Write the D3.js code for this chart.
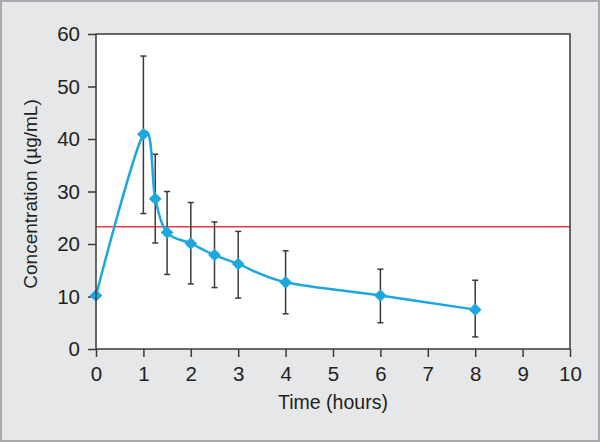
<!DOCTYPE html>
<html>
<head>
<meta charset="utf-8">
<script src="https://cdn.jsdelivr.net/npm/d3@7"></script>
<style>
  body { margin: 0; background: #e6e7e8; }
  svg { display: block; font-family: "Liberation Sans", Arial, sans-serif; }
</style>
</head>
<body>
<svg width="600" height="442"></svg>
<script>
// concentration vs time, mean with error bars
const times = [0, 1, 1.25, 1.5, 2, 2.5, 3, 4, 6, 8];
const means = [10.2, 40.9, 28.6, 22.2, 20.1, 17.9, 16.2, 12.7, 10.2, 7.5];
const upper = [10.2, 55.8, 37.1, 30.0, 27.9, 24.2, 22.4, 18.7, 15.2, 13.1];
const lower = [10.2, 25.8, 20.2, 14.2, 12.4, 11.7, 9.7, 6.7, 5.0, 2.3];
const xTicks = [0, 1, 2, 3, 4, 5, 6, 7, 8, 9, 10];
const yTicks = [0, 10, 20, 30, 40, 50, 60];
const threshold = 23.3;

const svg = d3.select("svg");
const margin = { left: 96, right: 30, top: 34, bottom: 93 };
const W = 600, H = 442;

const x = d3.scaleLinear().domain([0, 10]).range([margin.left, W - margin.right]);
const y = d3.scaleLinear().domain([0, 60]).range([H - margin.bottom, margin.top]);

// outer frame
svg.append("rect")
  .attr("x", 1).attr("y", 1)
  .attr("width", W - 2).attr("height", H - 2)
  .attr("fill", "#e6e7e8")
  .attr("stroke", "#a7a9ac")
  .attr("stroke-width", 2);

// plot area
svg.append("rect")
  .attr("x", x(0)).attr("y", y(60))
  .attr("width", x(10) - x(0)).attr("height", y(0) - y(60))
  .attr("fill", "#fff");

const axisColor = "#3a3a3a";

const xAxis = svg.append("g")
  .attr("transform", `translate(0,${y(0)})`)
  .call(d3.axisBottom(x).tickValues(xTicks).tickSize(8).tickPadding(9));
const yAxis = svg.append("g")
  .attr("transform", `translate(${x(0)},0)`)
  .call(d3.axisLeft(y).tickValues(yTicks).tickSize(8).tickPadding(8));

[xAxis, yAxis].forEach(g => {
  g.select(".domain").remove();
  g.selectAll("line").attr("stroke", axisColor).attr("stroke-width", 1.5);
  g.selectAll("text")
    .attr("fill", "#231f20")
    .style("font-size", "20.5px")
    .style("font-family", "Liberation Sans, Arial, sans-serif");
});

// threshold line
svg.append("line")
  .attr("x1", x(0)).attr("x2", x(10))
  .attr("y1", y(threshold)).attr("y2", y(threshold))
  .attr("stroke", "#e8413c")
  .attr("stroke-width", 1.5);

// error bars
const pts = times.map((t, i) => ({ t, m: means[i], hi: upper[i], lo: lower[i] }));
const bars = svg.append("g").attr("stroke", axisColor).attr("stroke-width", 1.5);
pts.filter(d => d.hi > d.lo).forEach(d => {
  bars.append("line").attr("x1", x(d.t)).attr("x2", x(d.t)).attr("y1", y(d.hi)).attr("y2", y(d.lo));
  [d.hi, d.lo].forEach(v => {
    bars.append("line")
      .attr("x1", x(d.t) - 3).attr("x2", x(d.t) + 3)
      .attr("y1", y(v)).attr("y2", y(v));
  });
});

// smoothed mean curve
const line = d3.line()
  .x(d => x(d.t))
  .y(d => y(d.m))
  .curve(d3.curveCatmullRom.alpha(0));

const blue = "#1ea6df";
svg.append("path")
  .datum(pts)
  .attr("d", line)
  .attr("fill", "none")
  .attr("stroke", blue)
  .attr("stroke-width", 2.5);

svg.append("g").selectAll("path")
  .data(pts)
  .join("path")
  .attr("d", d3.symbol(d3.symbolSquare, 80))
  .attr("transform", d => `translate(${x(d.t)},${y(d.m)}) rotate(45)`)
  .attr("fill", blue);

// plot border on top
svg.append("rect")
  .attr("x", x(0)).attr("y", y(60))
  .attr("width", x(10) - x(0)).attr("height", y(0) - y(60))
  .attr("fill", "none")
  .attr("stroke", axisColor)
  .attr("stroke-width", 1.5);

// axis titles
svg.append("text")
  .attr("x", (x(0) + x(10)) / 2)
  .attr("y", 409)
  .attr("text-anchor", "middle")
  .attr("fill", "#231f20")
  .style("font-size", "19.5px")
  .text("Time (hours)");

svg.append("text")
  .attr("transform", `translate(37,194) rotate(-90)`)
  .attr("text-anchor", "middle")
  .attr("fill", "#231f20")
  .style("font-size", "19px")
  .text("Concentration (µg/mL)");
</script>
</body>
</html>
